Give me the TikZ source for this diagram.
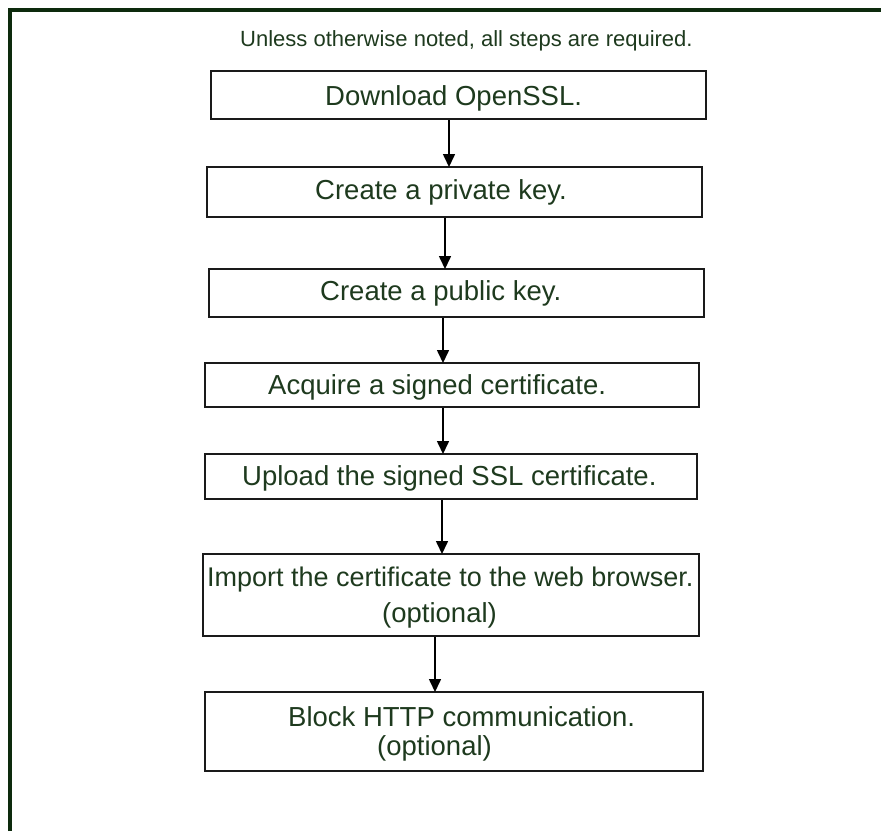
\documentclass[tikz,border=0pt]{standalone}
\usepackage{fontspec}
\setmainfont{Liberation Sans}
\usetikzlibrary{arrows.meta}
\definecolor{frame}{HTML}{0D2A0D}
\definecolor{txt}{HTML}{1E3A1E}
\definecolor{edge}{HTML}{1A1A1A}
\tikzset{
  stepbox/.style={draw=edge, line width=2pt, inner sep=0pt},
  lbl/.style={text=txt, font=\fontsize{27.5}{32}\selectfont, inner sep=0pt, anchor=base west},
  arr/.style={draw=black, line width=1.6pt, -{Triangle[length=13pt,width=12pt]}, shorten >=-1pt}
}
\begin{document}
\begin{tikzpicture}[x=1pt,y=-1pt]
\useasboundingbox (0,0) rectangle (881,831);
\fill[white] (0,0) rectangle (881,831);
% frame
\draw[frame, line width=4pt] (10,831) -- (10,10) -- (881,10);
% title
\node[text=txt, font=\fontsize{22}{26}\selectfont, inner sep=0pt, anchor=base west] (title) at (240,46) {Unless otherwise noted, all steps are required.};
% boxes
\node[stepbox, minimum width=495pt, minimum height=48pt] (b1) at (458.5,95) {};
\node[stepbox, minimum width=495pt, minimum height=50pt] (b2) at (454.5,192) {};
\node[stepbox, minimum width=495pt, minimum height=48pt] (b3) at (456.5,293) {};
\node[stepbox, minimum width=494pt, minimum height=44pt] (b4) at (452,385) {};
\node[stepbox, minimum width=492pt, minimum height=45pt] (b5) at (451,476.5) {};
\node[stepbox, minimum width=496pt, minimum height=82pt] (b6) at (451,595) {};
\node[stepbox, minimum width=498pt, minimum height=79pt] (b7) at (454,731.5) {};
% labels
\node[lbl] (t1) at (325,105) {Download OpenSSL.};
\node[lbl] (t2) at (315,199.5) {Create a private key.};
\node[lbl] (t3) at (320,300) {Create a public key.};
\node[lbl] (t4) at (268,394) {Acquire a signed certificate.};
\node[lbl] (t5) at (242,485.5) {Upload the signed SSL certificate.};
\node[lbl, font=\fontsize{27}{32}\selectfont] (t6a) at (207,586.5) {Import the certificate to the web browser.};
\node[lbl] (t6b) at (382,622) {(optional)};
\node[lbl] (t7a) at (288,726) {Block HTTP communication.};
\node[lbl] (t7b) at (377,755) {(optional)};
% arrow columns
\coordinate (c1) at (449,0);
\coordinate (c2) at (445,0);
\coordinate (c3) at (443,0);
\coordinate (c4) at (443,0);
\coordinate (c5) at (442,0);
\coordinate (c6) at (435,0);
\draw[arr] (b1.south -| c1) -- (b2.north -| c1);
\draw[arr] (b2.south -| c2) -- (b3.north -| c2);
\draw[arr] (b3.south -| c3) -- (b4.north -| c3);
\draw[arr] (b4.south -| c4) -- (b5.north -| c4);
\draw[arr] (b5.south -| c5) -- (b6.north -| c5);
\draw[arr] (b6.south -| c6) -- (b7.north -| c6);
\end{tikzpicture}
\end{document}
